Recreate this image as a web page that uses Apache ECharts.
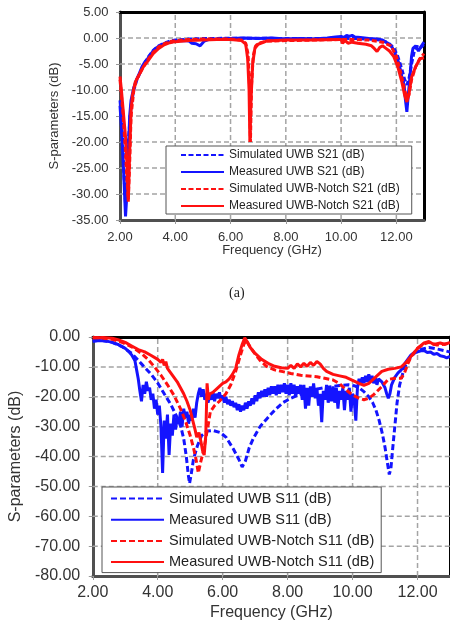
<!DOCTYPE html>
<html>
<head>
<meta charset="utf-8">
<script src="https://cdn.jsdelivr.net/npm/echarts/dist/echarts.min.js"></script>
<style>
html,body{margin:0;padding:0;background:#fff;}
#chart{width:450px;height:622px;}
</style>
</head>
<body>
<div id="chart"></div>
<script>
// ---------- DATA ----------
var legendS21 = ['Simulated UWB S21 (dB)', 'Measured UWB S21 (dB)', 'Simulated UWB-Notch S21 (dB)', 'Measured UWB-Notch S21 (dB)'];
var legendS11 = ['Simulated UWB S11 (dB)', 'Measured UWB S11 (dB)', 'Simulated UWB-Notch S11 (dB)', 'Measured UWB-Notch S11 (dB)'];
var panelLabel = '(a)';
var xName = 'Frequency (GHz)';
var yName = 'S-parameters (dB)';
var freqTicks = [4, 6, 8, 10, 12];                       // inner vertical grid lines
var s21Ticks = [0, -5, -10, -15, -20, -25, -30];        // inner horizontal grid lines (a)
var s11Ticks = [-10, -20, -30, -40, -50, -60, -70];     // inner horizontal grid lines (b)

var s21SimUWB = [[2.0,-12],[2.05,-15],[2.1,-20],[2.15,-27],[2.2,-32],[2.25,-28],[2.3,-20],[2.4,-13],[2.5,-10],[2.6,-8.2],[2.7,-7],[2.8,-5.8],[3.0,-3.8],[3.2,-2.4],[3.4,-1.5],[3.6,-1],[3.8,-0.6],[4.0,-0.4],[4.5,-0.2],[5,-0.1],[6,-0.05],[7,-0.05],[8,-0.1],[9,-0.1],[10,-0.05],[10.5,-0.1],[11,-0.2],[11.4,-0.4],[11.7,-0.9],[11.9,-1.8],[12.05,-3.5],[12.2,-6],[12.3,-8],[12.38,-9],[12.45,-8],[12.55,-5],[12.65,-2.5],[12.75,-1.6],[12.85,-2],[13,-1.2]];
var s21MeasUWB = [[2.0,-13],[2.05,-17],[2.1,-22],[2.15,-28],[2.2,-34.3],[2.25,-30],[2.3,-22],[2.35,-15],[2.4,-12],[2.5,-9.5],[2.6,-8],[2.7,-6.8],[2.8,-5.5],[2.9,-4.6],[3.0,-4],[3.1,-3.2],[3.2,-2.5],[3.3,-2],[3.4,-1.6],[3.6,-1.1],[3.8,-0.8],[4.0,-0.6],[4.3,-0.5],[4.5,-0.6],[4.6,-1.0],[4.75,-1.1],[4.9,-1.5],[4.97,-1.6],[5.05,-0.6],[5.2,-0.3],[5.6,-0.2],[6,-0.1],[6.5,0],[7,-0.1],[7.5,0],[8,-0.2],[8.5,-0.1],[9,-0.2],[9.5,0],[9.8,0.2],[10,0.3],[10.1,0.1],[10.2,0.5],[10.3,0.3],[10.4,0.5],[10.5,0.2],[10.7,0.1],[11,-0.1],[11.3,-0.2],[11.5,-0.4],[11.7,-1],[11.85,-1.8],[12.0,-3.5],[12.1,-5],[12.2,-7.5],[12.28,-9],[12.33,-12],[12.38,-14.2],[12.43,-11],[12.5,-7],[12.55,-3.5],[12.6,-2],[12.7,-1.5],[12.8,-2.5],[12.9,-1.6],[13,-0.8]];
var s21SimNotch = [[2.0,-8],[2.05,-11],[2.1,-14],[2.15,-18],[2.2,-22],[2.25,-27],[2.3,-31],[2.35,-24],[2.4,-15],[2.5,-10],[2.6,-8],[2.7,-7],[2.8,-6],[3.0,-4.2],[3.2,-2.8],[3.4,-1.7],[3.6,-1.1],[3.8,-0.7],[4.0,-0.5],[4.5,-0.3],[5,-0.2],[6,-0.2],[6.4,-0.4],[6.55,-1],[6.63,-3],[6.68,-8],[6.72,-20],[6.76,-9],[6.82,-3.5],[6.9,-1.6],[7.0,-1],[7.3,-0.6],[8,-0.5],[9,-0.4],[10,-0.3],[10.5,-0.3],[11,-0.4],[11.5,-0.8],[11.8,-1.5],[12.0,-3.5],[12.15,-6.5],[12.3,-10],[12.38,-11.5],[12.45,-11],[12.55,-8],[12.7,-5.5],[12.85,-4],[13,-3]];
var s21MeasNotch = [[2.0,-7.4],[2.05,-10],[2.1,-13],[2.15,-16],[2.2,-19],[2.25,-24],[2.3,-31.5],[2.35,-22],[2.4,-14],[2.45,-11],[2.55,-8.5],[2.7,-7],[2.85,-5.5],[3.0,-4.5],[3.2,-3],[3.4,-2],[3.6,-1.3],[3.8,-0.9],[4,-0.7],[4.5,-0.5],[5,-0.4],[5.5,-0.3],[6,-0.3],[6.4,-0.5],[6.55,-1.2],[6.62,-4],[6.67,-10],[6.7,-20],[6.74,-12],[6.8,-5],[6.88,-2],[7.0,-1.2],[7.3,-0.6],[8,-0.4],[9,-0.4],[9.8,-0.3],[10.0,-0.3],[10.05,-1],[10.15,-0.5],[10.25,-1],[10.4,-0.8],[10.6,-1],[10.9,-1.2],[11.1,-1.5],[11.2,-2],[11.3,-2.6],[11.4,-1.8],[11.5,-1.5],[11.6,-1.9],[11.75,-2.5],[11.9,-3.5],[12.05,-5.5],[12.2,-8.5],[12.3,-11],[12.38,-12.3],[12.45,-11],[12.55,-7.5],[12.7,-5.5],[12.85,-4],[13,-3.8]];

var s11SimUWB = [[2.0,-1],[2.3,-1.2],[2.6,-1.8],[2.9,-3.2],[3.2,-5.5],[3.5,-9],[3.8,-12.5],[4.0,-15.4],[4.2,-19],[4.41,-22.7],[4.6,-27],[4.71,-30],[4.8,-34],[4.88,-40],[4.94,-46],[4.98,-49],[5.03,-46],[5.1,-41],[5.22,-36.5],[5.35,-33],[5.52,-31.5],[5.7,-31.3],[5.93,-32],[6.1,-33.5],[6.33,-37.5],[6.5,-41],[6.6,-43.5],[6.7,-41.5],[6.82,-37],[6.94,-34],[7.15,-30],[7.35,-27.5],[7.6,-24.5],[7.85,-22],[8.1,-20.5],[8.36,-19.3],[8.6,-18.3],[8.87,-17.5],[9.1,-17],[9.37,-16.6],[9.6,-16.2],[9.88,-16],[10.05,-16.3],[10.2,-17],[10.35,-18.3],[10.5,-20],[10.62,-22],[10.72,-24.5],[10.82,-28],[10.92,-32.5],[11.0,-37],[11.07,-42],[11.13,-46],[11.18,-44],[11.23,-38],[11.3,-30],[11.37,-22],[11.45,-16],[11.55,-12],[11.65,-9],[11.8,-6.5],[11.95,-5],[12.15,-4],[12.35,-3.5],[12.6,-4],[12.8,-4.5],[13,-5]];
var s11MeasUWB = [[2.0,-1.5],[2.2,-1.2],[2.4,-1.3],[2.6,-1.8],[2.8,-2.6],[3.0,-3.8],[3.1,-4.8],[3.2,-6],[3.3,-8],[3.35,-11],[3.4,-14],[3.45,-18],[3.5,-21.5],[3.55,-16],[3.6,-19],[3.65,-15],[3.7,-18],[3.75,-17],[3.8,-21],[3.85,-19],[3.9,-24],[3.95,-21],[4.0,-26],[4.05,-23],[4.1,-30],[4.15,-45.5],[4.2,-28],[4.25,-34],[4.3,-26],[4.35,-39.5],[4.4,-29],[4.45,-33],[4.5,-26],[4.55,-31],[4.6,-27],[4.65,-29],[4.7,-25],[4.75,-30],[4.8,-24],[4.85,-27],[4.9,-25],[4.95,-29],[5.0,-26],[5.05,-28],[5.1,-24],[5.15,-27],[5.2,-22],[5.25,-19],[5.3,-17],[5.35,-20],[5.4,-17.5],[5.45,-21],[5.5,-19],[5.55,-22],[5.6,-19.5],[5.65,-21],[5.7,-18.5],[5.75,-21.5],[5.8,-19],[5.85,-20.5],[5.9,-18.5],[5.95,-21],[6.0,-19.5],[6.05,-22],[6.1,-20],[6.15,-22.5],[6.2,-21],[6.25,-23],[6.3,-21.5],[6.35,-23.5],[6.4,-22],[6.45,-24.5],[6.5,-22.5],[6.55,-25],[6.6,-23],[6.65,-24.5],[6.7,-22],[6.75,-24],[6.8,-21.5],[6.85,-23],[6.9,-20.5],[6.95,-22.5],[7.0,-19.5],[7.05,-21.5],[7.1,-18.5],[7.15,-20.5],[7.2,-18],[7.25,-20],[7.3,-17.5],[7.35,-20],[7.4,-17],[7.45,-19.5],[7.5,-16.5],[7.55,-19],[7.6,-16.5],[7.65,-19.5],[7.7,-16],[7.75,-19],[7.8,-16],[7.85,-18.5],[7.9,-15.5],[7.95,-19],[8.0,-16],[8.05,-19.5],[8.1,-15.5],[8.15,-19],[8.2,-16],[8.25,-20],[8.3,-16.5],[8.35,-19],[8.4,-16],[8.45,-21],[8.5,-16],[8.55,-24],[8.6,-17],[8.65,-23],[8.7,-16.5],[8.75,-20],[8.8,-15.5],[8.85,-20.5],[8.9,-17],[8.95,-23],[9.0,-19],[9.05,-28.5],[9.1,-18],[9.15,-21],[9.2,-16],[9.25,-22],[9.3,-17],[9.35,-21.5],[9.4,-16.5],[9.45,-22],[9.5,-17],[9.55,-24],[9.6,-18],[9.65,-21],[9.7,-17],[9.75,-24.5],[9.8,-18],[9.85,-21],[9.9,-17],[9.95,-25],[10.0,-19],[10.05,-21],[10.1,-28],[10.15,-17],[10.2,-14],[10.25,-16],[10.3,-13.5],[10.35,-15.5],[10.4,-13],[10.45,-15],[10.5,-12.5],[10.55,-15],[10.6,-13],[10.65,-15.5],[10.7,-13.5],[10.75,-16],[10.8,-14],[10.9,-15],[11.0,-17],[11.05,-19],[11.1,-20.5],[11.15,-19],[11.2,-16],[11.3,-13.5],[11.4,-12],[11.5,-11],[11.6,-9],[11.7,-7.5],[11.8,-6],[11.9,-5.2],[12.0,-5],[12.1,-4.6],[12.2,-4.5],[12.3,-5.2],[12.4,-5],[12.5,-5.8],[12.6,-5.5],[12.7,-6.3],[12.8,-6.5],[12.9,-7],[13.0,-6.5]];
var s11SimNotch = [[2.0,-0.2],[2.3,-0.3],[2.6,-0.8],[2.9,-1.8],[3.2,-3.3],[3.5,-5.5],[3.7,-7.5],[3.9,-10],[4.1,-12.8],[4.3,-16],[4.5,-19.5],[4.7,-24],[4.85,-28],[5.0,-33],[5.1,-37],[5.18,-41],[5.25,-45.5],[5.32,-42],[5.4,-38.5],[5.48,-34],[5.56,-29],[5.62,-25],[5.75,-23],[5.9,-21.5],[6.1,-19],[6.25,-16],[6.4,-11.5],[6.55,-6],[6.65,-2.5],[6.72,-1],[6.8,-2.5],[6.95,-5],[7.15,-7.8],[7.35,-9.8],[7.6,-11],[7.85,-11.6],[8.1,-12.2],[8.4,-12.8],[8.9,-13.3],[9.4,-14.4],[9.6,-15.6],[9.8,-17.7],[10.0,-19.4],[10.2,-20.5],[10.35,-21],[10.5,-20.5],[10.65,-19.3],[10.9,-16.6],[11.1,-14.2],[11.3,-13.8],[11.5,-13.8],[11.6,-12],[11.7,-9],[11.8,-6.6],[12.0,-3.8],[12.2,-2.3],[12.35,-1.8],[12.6,-2.7],[12.8,-2.4],[13,-2]];
var s11MeasNotch = [[2.0,-0.3],[2.3,-0.2],[2.6,-0.4],[2.8,-1],[3.0,-1.8],[3.2,-3],[3.4,-4.2],[3.6,-5],[3.8,-6.2],[4.0,-7.5],[4.1,-8.5],[4.15,-7.5],[4.2,-9.5],[4.25,-8.2],[4.3,-10.5],[4.4,-12],[4.5,-13.5],[4.6,-15],[4.7,-17],[4.8,-19],[4.9,-21.5],[5.0,-24.5],[5.08,-28],[5.15,-31],[5.2,-33.5],[5.27,-32],[5.33,-35],[5.38,-38],[5.43,-39.5],[5.48,-33],[5.52,-15.5],[5.56,-21],[5.6,-19],[5.7,-18.5],[5.8,-17.5],[5.9,-16.5],[6.0,-15.5],[6.1,-15],[6.2,-14],[6.3,-12.5],[6.4,-10.5],[6.5,-6],[6.6,-2.5],[6.68,-0.3],[6.75,-1.5],[6.85,-3.5],[7.0,-5.5],[7.2,-7.5],[7.4,-8.8],[7.6,-9.8],[7.8,-10.3],[8.0,-10.5],[8.1,-9.5],[8.2,-10.5],[8.3,-9],[8.4,-10],[8.5,-8.8],[8.6,-9.8],[8.7,-8.5],[8.8,-9.5],[8.9,-8.2],[9.0,-9],[9.1,-10.5],[9.2,-11.5],[9.4,-12.5],[9.6,-13],[9.8,-13.5],[10.0,-14.5],[10.2,-15.5],[10.35,-16.2],[10.5,-15.5],[10.7,-13.5],[10.9,-11.5],[11.1,-10.8],[11.3,-10.5],[11.5,-10],[11.65,-8.5],[11.8,-6.5],[12.0,-3.8],[12.2,-2],[12.35,-1.5],[12.5,-2.5],[12.7,-2],[12.85,-2.5],[13,-1.8]];

// ---------- CHART ----------
var BLUE = '#1414ff', RED = '#ff1010';
var FONT = '"Liberation Sans", Arial, sans-serif';
var fmt = function (v) { return v.toFixed(2); };
var X_MIN = 2, X_MAX = 13;

function xAxes(grid, fs, margin, gap) {
  return [{
    gridIndex: grid, type: 'value', min: X_MIN, max: X_MAX, interval: 2, position: 'bottom',
    name: xName, nameLocation: 'middle', nameGap: gap,
    nameTextStyle: {fontFamily: FONT, fontSize: fs, color: '#333'},
    axisLine: {show: true, onZero: false, lineStyle: {color: '#505050', width: 3}},
    axisTick: {show: true, length: 4, lineStyle: {color: '#999'}},
    axisLabel: {formatter: fmt, showMaxLabel: false, fontFamily: FONT, fontSize: fs, color: '#333', margin: margin},
    splitLine: {show: false}
  }, {
    gridIndex: grid, type: 'value', min: X_MIN, max: X_MAX, interval: 2, position: 'top',
    axisLine: {show: true, onZero: false, lineStyle: {color: '#000', width: 3}},
    axisTick: {show: false}, axisLabel: {show: false}, splitLine: {show: false}
  }];
}
function yAxes(grid, min, max, step, fs, margin, gap) {
  return [{
    gridIndex: grid, type: 'value', min: min, max: max, interval: step, position: 'left',
    name: yName, nameLocation: 'middle', nameGap: gap,
    nameTextStyle: {fontFamily: FONT, fontSize: fs, color: '#333'},
    axisLine: {show: true, onZero: false, lineStyle: {color: '#505050', width: 3}},
    axisTick: {show: true, length: 4, lineStyle: {color: '#999'}},
    axisLabel: {formatter: fmt, fontFamily: FONT, fontSize: fs, color: '#333', margin: margin},
    splitLine: {show: false}
  }, {
    gridIndex: grid, type: 'value', min: min, max: max, interval: step, position: 'right',
    axisLine: {show: true, onZero: false, lineStyle: {color: '#000', width: 3}},
    axisTick: {show: false}, axisLabel: {show: false}, splitLine: {show: false}
  }];
}
// dashed grid lines drawn as two-point line series through the axes' scales
function gridLineSeries(xi, yi, yTicks, yMin, yMax) {
  var out = [];
  var style = {color: '#a4a4a4', type: [5, 3], width: 1.5};
  yTicks.forEach(function (v) {
    out.push({type: 'line', data: [[X_MIN, v], [X_MAX, v]], xAxisIndex: xi, yAxisIndex: yi,
      symbol: 'none', showSymbol: false, silent: true, z: 1, animation: false,
      lineStyle: style, emphasis: {disabled: true}, tooltip: {show: false}});
  });
  freqTicks.forEach(function (v) {
    out.push({type: 'line', data: [[v, yMin], [v, yMax]], xAxisIndex: xi, yAxisIndex: yi,
      symbol: 'none', showSymbol: false, silent: true, z: 1, animation: false,
      lineStyle: style, emphasis: {disabled: true}, tooltip: {show: false}});
  });
  return out;
}
function line(name, data, color, dashed, xi, yi, dash) {
  return {
    name: name, type: 'line', data: data, xAxisIndex: xi, yAxisIndex: yi,
    symbol: 'none', showSymbol: false, smooth: false, animation: false, z: 3,
    lineStyle: {color: color, width: 3, type: dashed ? dash : 'solid'},
    itemStyle: {color: color}
  };
}
function legendBox(data, left, top, w, h, gap, pad, fs) {
  return {
    data: data, orient: 'vertical', left: left, top: top, z: 10,
    itemWidth: w, itemHeight: h, itemGap: gap, padding: pad,
    backgroundColor: '#fff', borderColor: '#555', borderWidth: 1, borderRadius: 0,
    itemStyle: {opacity: 0, borderWidth: 0},
    textStyle: {fontFamily: FONT, fontSize: fs, color: '#222'},
    selectedMode: false
  };
}

var chart = echarts.init(document.getElementById('chart'), null, {renderer: 'canvas'});
chart.setOption({
  animation: false,
  grid: [
    {left: 120, right: 26, top: 12, bottom: 402},
    {left: 91, right: -3, top: 337, bottom: 46}
  ],
  xAxis: xAxes(0, 13, 10.5, 23).concat(xAxes(1, 16, 9, 29)),
  yAxis: yAxes(0, -35, 5, 5, 13, 11.5, 53).concat(yAxes(1, -80, 0, 10, 16, 12.5, 65)),
  legend: [
    legendBox(legendS21, 166, 146, 43, 12, 5, [3, 12, 2, 14], 12),
    legendBox(legendS11, 102, 487, 53, 14, 6.2, [4, 7, 3, 8], 14.5)
  ],
  graphic: [{
    type: 'text', left: 229, top: 286,
    style: {text: panelLabel, font: '14px "Liberation Serif", serif', fill: '#222'}
  }],
  series: gridLineSeries(0, 0, s21Ticks, -35, 5)
    .concat(gridLineSeries(2, 2, s11Ticks, -80, 0))
    .concat([
      line(legendS21[0], s21SimUWB, BLUE, true, 0, 0, [5, 2.5]),
      line(legendS21[1], s21MeasUWB, BLUE, false, 0, 0),
      line(legendS21[2], s21SimNotch, RED, true, 0, 0, [5, 2.5]),
      line(legendS21[3], s21MeasNotch, RED, false, 0, 0),
      line(legendS11[0], s11SimUWB, BLUE, true, 2, 2, [6, 3]),
      line(legendS11[1], s11MeasUWB, BLUE, false, 2, 2),
      line(legendS11[2], s11SimNotch, RED, true, 2, 2, [6, 3]),
      line(legendS11[3], s11MeasNotch, RED, false, 2, 2)
    ])
});
</script>
</body>
</html>
